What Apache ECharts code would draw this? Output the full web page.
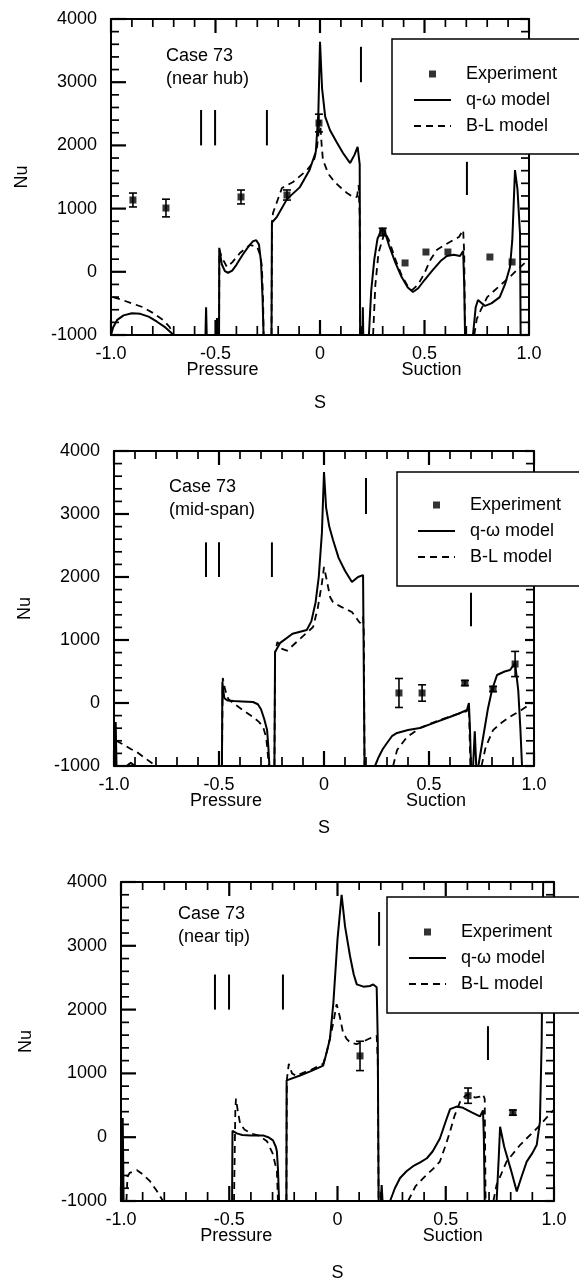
<!DOCTYPE html>
<html><head><meta charset="utf-8">
<script src="https://cdn.jsdelivr.net/npm/echarts@6/dist/echarts.min.js"></script>
<style>html,body{margin:0;padding:0;background:#fff}#c{width:579px;height:1283px}</style>
</head><body><div id="c"></div>
<script>
// ---------- tick labels / tick positions ----------
const xTickValues = [-1, -0.5, 0, 0.5, 1];
const xTickText = ['-1.0', '-0.5', '0', '0.5', '1.0'];
const xSideText = ['', 'Pressure', '', 'Suction', ''];
const xMinorValues = [-0.9,-0.8,-0.7,-0.6,-0.4,-0.3,-0.2,-0.1,0.1,0.2,0.3,0.4,0.6,0.7,0.8,0.9];
const yTickValues = [-1000, 0, 1000, 2000, 3000, 4000];
const yTickText = ['-1000', '0', '1000', '2000', '3000', '4000'];
const yMinorValues = [-800,-600,-400,-200,200,400,600,800,1200,1400,1600,1800,2200,2400,2600,2800,3200,3400,3600,3800];
const panelTitles = ['Case 73\n(near hub)', 'Case 73\n(mid-span)', 'Case 73\n(near tip)'];
const legendNames = ['Experiment', 'q-ω model', 'B-L model'];

// ---------- panel 1 : near hub ----------
const hubQw = [
  [[-1,-1000],[-0.99,-880],[-0.97,-760],[-0.94,-690],[-0.9,-655],[-0.86,-665],[-0.82,-710],[-0.78,-790],[-0.74,-880],[-0.7,-1000]],
  [[-0.548,-1000],[-0.545,-560],[-0.542,-1000]],
  [[-0.495,-1000],[-0.493,-730],[-0.49,-1000]],
  [[-0.483,-1000],[-0.482,380],[-0.47,120],[-0.455,10],[-0.44,-15],[-0.42,20],[-0.4,110],[-0.37,270],[-0.34,410],[-0.32,485],[-0.305,500],[-0.292,430],[-0.282,150],[-0.275,-400],[-0.27,-1000]],
  [[-0.232,-1000],[-0.23,780],[-0.206,870],[-0.158,1150],[-0.096,1340],[-0.05,1610],[-0.02,1900],[-0.008,2500],[0,3640],[0.01,2900],[0.025,2450],[0.048,2240],[0.08,2050],[0.11,1880],[0.144,1720],[0.165,1850],[0.18,1975],[0.19,1700],[0.192,-1000]],
  [[0.203,-1000],[0.205,-560],[0.207,-1000]],
  [[0.234,-1000],[0.245,-300],[0.26,200],[0.275,520],[0.297,690],[0.31,640],[0.33,420],[0.36,150],[0.39,-80],[0.42,-250],[0.445,-320],[0.47,-260],[0.5,-130],[0.54,30],[0.58,180],[0.607,250],[0.64,270],[0.67,250],[0.685,330],[0.69,-200],[0.694,-1000]],
  [[0.732,-1000],[0.745,-560],[0.756,-446],[0.775,-500],[0.79,-540],[0.82,-500],[0.86,-400],[0.885,-200],[0.909,76],[0.92,500],[0.933,1610],[0.945,1300],[0.957,600],[0.96,-1000]]
];
const hubBl = [
  [[-0.99,-400],[-0.95,-440],[-0.9,-500],[-0.85,-557],[-0.8,-650],[-0.75,-765],[-0.72,-870],[-0.7,-1000]],
  [[-0.483,-1000],[-0.481,344],[-0.47,230],[-0.445,76],[-0.42,150],[-0.383,297],[-0.335,424],[-0.3,392],[-0.285,250],[-0.278,76],[-0.272,-500],[-0.27,-1000]],
  [[-0.232,-1000],[-0.23,780],[-0.225,930],[-0.182,1326],[-0.129,1420],[-0.062,1610],[-0.03,1750],[-0.015,1950],[0,2400],[0.008,2000],[0.014,1770],[0.04,1550],[0.07,1420],[0.1,1330],[0.129,1247],[0.16,1180],[0.177,1184],[0.185,1373],[0.19,900],[0.192,-1000]],
  [[0.254,-1000],[0.265,-200],[0.28,300],[0.31,630],[0.33,500],[0.36,200],[0.39,-50],[0.42,-230],[0.44,-290],[0.47,-200],[0.5,-20],[0.53,200],[0.56,350],[0.6,430],[0.637,500],[0.665,550],[0.685,660],[0.69,300],[0.694,-1000]],
  [[0.738,-1000],[0.75,-750],[0.77,-600],[0.8,-400],[0.85,-250],[0.909,-80],[0.94,20],[0.97,110],[1.0,200]]
];
const hubExp = [[-0.895,1136,110],[-0.737,1009,140],[-0.378,1184,110],[-0.158,1215,80],[-0.005,2354,140],[0.30,630,60],[0.407,140,0],[0.507,313,0],[0.612,313,0],[0.813,234,0],[0.919,155,0]];
const hubMarks = [[-0.569,2000,2560],[-0.502,2000,2560],[-0.254,2000,2560],[0.196,3000,3560],[0.703,1215,1740]];

// ---------- panel 2 : mid-span ----------
const midQw = [
  [[-0.995,-1000],[-0.992,-300],[-0.988,-1000]],
  [[-0.94,-1000],[-0.92,-950],[-0.9,-1000]],
  [[-0.486,-1000],[-0.484,333],[-0.475,80],[-0.46,40],[-0.43,30],[-0.39,25],[-0.338,16],[-0.315,-20],[-0.3,-100],[-0.285,-250],[-0.271,-430],[-0.265,-700],[-0.26,-1000]],
  [[-0.236,-1000],[-0.233,810],[-0.21,950],[-0.15,1100],[-0.082,1160],[-0.06,1300],[-0.04,1600],[-0.025,2000],[-0.01,2700],[0,3667],[0.01,3100],[0.025,2800],[0.043,2587],[0.07,2300],[0.1,2100],[0.133,1920],[0.162,2000],[0.186,2030],[0.19,2000],[0.193,-1000]],
  [[0.243,-1000],[0.26,-860],[0.28,-730],[0.3,-635],[0.325,-520],[0.348,-476],[0.4,-430],[0.457,-397],[0.52,-320],[0.586,-238],[0.64,-170],[0.681,-111],[0.69,0],[0.695,-400],[0.7,-1000]],
  [[0.71,-1000],[0.718,-450],[0.725,-1000]],
  [[0.735,-1000],[0.76,-500],[0.78,-100],[0.8,206],[0.824,444],[0.86,500],[0.886,524],[0.91,635],[0.925,200],[0.935,-400],[0.943,-1000]]
];
const midBl = [
  [[-0.99,-600],[-0.96,-650],[-0.92,-730],[-0.89,-780],[-0.85,-880],[-0.8,-1000]],
  [[-0.486,-1000],[-0.482,397],[-0.47,200],[-0.455,60],[-0.433,0],[-0.4,-80],[-0.37,-150],[-0.338,-222],[-0.31,-300],[-0.29,-380],[-0.275,-550],[-0.265,-900],[-0.262,-1000]],
  [[-0.236,-1000],[-0.233,800],[-0.222,970],[-0.2,860],[-0.176,830],[-0.12,1000],[-0.052,1206],[-0.03,1500],[-0.01,1900],[0,2159],[0.01,2000],[0.029,1683],[0.043,1600],[0.08,1530],[0.133,1444],[0.171,1270],[0.186,1365],[0.19,1100],[0.193,-1000]],
  [[0.329,-1000],[0.348,-746],[0.395,-540],[0.457,-397],[0.52,-310],[0.586,-230],[0.64,-170],[0.68,-130],[0.69,-50],[0.697,-1000]],
  [[0.75,-1000],[0.77,-700],[0.805,-430],[0.85,-300],[0.9,-190],[0.94,-110],[0.971,-40],[0.99,0]]
];
const midExp = [[0.357,159,230],[0.467,159,130],[0.671,317,40],[0.805,222,40],[0.91,619,200]];
const midMarks = [[-0.562,2000,2550],[-0.5,2000,2550],[-0.248,2000,2550],[0.2,3000,3570],[0.7,1220,1750]];

// ---------- panel 3 : near tip ----------
const tipQw = [
  [[-0.995,-1000],[-0.992,300],[-0.988,-1000]],
  [[-0.487,-1000],[-0.485,100],[-0.48,106],[-0.465,60],[-0.44,35],[-0.4,28],[-0.344,28],[-0.32,0],[-0.298,-50],[-0.285,-150],[-0.28,-220],[-0.275,-500],[-0.27,-1000]],
  [[-0.236,-1000],[-0.235,890],[-0.173,967],[-0.12,1040],[-0.066,1123],[-0.05,1330],[-0.035,1540],[-0.019,2110],[0,3100],[0.019,3798],[0.035,3300],[0.058,2836],[0.075,2550],[0.089,2396],[0.12,2360],[0.15,2370],[0.165,2395],[0.181,2350],[0.186,1500],[0.19,-1000]],
  [[0.2,-1000],[0.204,-750],[0.208,-1000]],
  [[0.243,-1000],[0.265,-800],[0.289,-640],[0.32,-530],[0.349,-455],[0.38,-400],[0.413,-330],[0.44,-220],[0.473,-20],[0.5,250],[0.52,440],[0.55,480],[0.58,460],[0.62,390],[0.658,325],[0.672,420],[0.676,0],[0.68,-1000]],
  [[0.735,-1000],[0.745,-300],[0.751,163],[0.77,-150],[0.8,-500],[0.828,-850],[0.85,-620],[0.874,-382],[0.9,-250],[0.92,-123],[0.935,240],[0.943,1500],[0.95,4000]]
];
const tipBl = [
  [[-0.975,-1000],[-0.97,-620],[-0.96,-560],[-0.926,-517],[-0.9,-580],[-0.866,-690],[-0.835,-840],[-0.806,-1000]],
  [[-0.478,-1000],[-0.472,400],[-0.469,605],[-0.46,400],[-0.45,215],[-0.43,120],[-0.4,60],[-0.36,20],[-0.326,-62],[-0.3,-250],[-0.28,-530],[-0.275,-1000]],
  [[-0.236,-1000],[-0.234,900],[-0.225,1150],[-0.21,1000],[-0.19,960],[-0.173,990],[-0.12,1060],[-0.066,1150],[-0.05,1330],[-0.035,1550],[-0.019,1800],[-0.004,2084],[0.01,1900],[0.025,1650],[0.042,1540],[0.06,1480],[0.089,1460],[0.12,1500],[0.15,1550],[0.181,1590],[0.186,1200],[0.19,-1000]],
  [[0.326,-1000],[0.36,-770],[0.396,-642],[0.44,-500],[0.473,-382],[0.5,-120],[0.52,90],[0.54,330],[0.566,553],[0.59,650],[0.612,680],[0.635,620],[0.658,635],[0.672,670],[0.68,600],[0.684,-1000]],
  [[0.72,-1000],[0.735,-746],[0.781,-382],[0.843,-123],[0.9,70],[0.935,188],[0.982,370],[1.0,430]]
];
const tipExp = [[0.104,1274,230],[0.603,651,120],[0.81,386,40]];
const tipMarks = [[-0.566,2000,2550],[-0.501,2000,2550],[-0.252,2000,2550],[0.192,3000,3530],[0.695,1210,1740]];

// ---------- layout (pixels) ----------
const FONT = '"Liberation Sans", Arial, Helvetica, sans-serif';
const grids = [
  {left:111, top:19,  width:418, height:316},
  {left:114, top:451, width:420, height:315},
  {left:121, top:882, width:433, height:321}
];
const nuGap = [80, 80, 86];
const sGap = [59, 53, 63];
const titlePos = [{left:166, top:45}, {left:169, top:476}, {left:178, top:903}];
const legendPos = [
  {left:392, top:39, padding:[26,60,19,21]},
  {left:397, top:472, padding:[24,60,20,20]},
  {left:387, top:897, padding:[26,60,20,21]}
];
// tick lengths: [major, minor] for bottom, top, left, right
const tickLen = {bottom:[15,9], top:[14,8], left:[15,8], right:[9,8]};
const panels = [
  {qw:hubQw, bl:hubBl, exp:hubExp, marks:hubMarks},
  {qw:midQw, bl:midBl, exp:midExp, marks:midMarks},
  {qw:tipQw, bl:tipBl, exp:tipExp, marks:tipMarks}
];

const xAxes = [], yAxes = [], series = [], titles = [], legends = [];
const black = '#000';
const SQUARE = 'path://M0,0L10,0L10,10L0,10Z';

function labelFor(values, texts, v) {
  const i = values.findIndex(t => Math.abs(t - v) < 1e-9);
  return i < 0 ? '' : texts[i];
}

// tick list: [value, side(0 bottom,1 top,2 left,3 right), major(1/0)]
const tickItems = [];
xTickValues.forEach(v => { tickItems.push([v,0,1]); tickItems.push([v,1,1]); });
xMinorValues.forEach(v => { tickItems.push([v,0,0]); tickItems.push([v,1,0]); });
yTickValues.forEach(v => { tickItems.push([v,2,1]); tickItems.push([v,3,1]); });
yMinorValues.forEach(v => { tickItems.push([v,2,0]); tickItems.push([v,3,0]); });

panels.forEach((p, k) => {
  const baseAxis = {
    axisLine:{show:true, onZero:false, lineStyle:{color:black, width:2}},
    axisTick:{show:false}, minorTick:{show:false},
    splitLine:{show:false}, minorSplitLine:{show:false}
  };
  xAxes.push(Object.assign({
    type:'value', gridIndex:k, position:'bottom', min:-1, max:1, interval:0.5,
    name:'S', nameLocation:'middle', nameGap:sGap[k],
    nameTextStyle:{fontSize:18, fontFamily:FONT, color:black},
    axisLabel:{
      show:true, margin:11, color:black, fontFamily:FONT,
      formatter: v => {
        const t = labelFor(xTickValues, xTickText, v);
        const s = labelFor(xTickValues, xSideText, v);
        return s ? '{t|' + t + '}\n{s|' + s + '}' : '{t|' + t + '}';
      },
      rich:{
        t:{fontSize:18, lineHeight:16, fontFamily:FONT, color:black},
        s:{fontSize:18, lineHeight:16, fontFamily:FONT, color:black, padding:[0,0,0,14]}
      }
    }
  }, baseAxis));
  xAxes.push(Object.assign({
    type:'value', gridIndex:k, position:'top', min:-1, max:1, interval:0.5, axisLabel:{show:false}
  }, baseAxis));
  yAxes.push(Object.assign({
    type:'value', gridIndex:k, position:'left', min:-1000, max:4000, interval:1000,
    name:'Nu', nameLocation:'middle', nameGap:nuGap[k],
    nameTextStyle:{fontSize:18, fontFamily:FONT, color:black},
    axisLabel:{show:true, margin:14, fontSize:18, fontFamily:FONT, color:black,
      formatter: v => labelFor(yTickValues, yTickText, v)}
  }, baseAxis));
  yAxes.push(Object.assign({
    type:'value', gridIndex:k, position:'right', min:-1000, max:4000, interval:1000, axisLabel:{show:false}
  }, baseAxis));

  const xi = 2*k, yi = 2*k;
  // inside ticks drawn through the axis scales
  series.push({
    type:'custom', xAxisIndex:xi, yAxisIndex:yi, data:tickItems, silent:true, z:2, clip:false,
    renderItem:(params, api) => {
      const v = api.value(0), side = api.value(1), major = api.value(2);
      let a, dx = 0, dy = 0, len;
      if (side === 0) { a = api.coord([v, -1000]); len = tickLen.bottom[major ? 0 : 1]; dy = -len; }
      else if (side === 1) { a = api.coord([v, 4000]); len = tickLen.top[major ? 0 : 1]; dy = len; }
      else if (side === 2) { a = api.coord([-1, v]); len = tickLen.left[major ? 0 : 1]; dx = len; }
      else { a = api.coord([1, v]); len = tickLen.right[major ? 0 : 1]; dx = -len; }
      return {type:'line', shape:{x1:a[0], y1:a[1], x2:a[0]+dx, y2:a[1]+dy},
        style:{stroke:black, lineWidth: major ? 2.2 : 1.7}};
    }
  });
  p.qw.forEach(seg => series.push({
    type:'line', name:legendNames[1], xAxisIndex:xi, yAxisIndex:yi, data:seg,
    symbol:'none', lineStyle:{color:black, width:2, type:'solid'}, itemStyle:{color:black},
    silent:true, z:3
  }));
  p.bl.forEach(seg => series.push({
    type:'line', name:legendNames[2], xAxisIndex:xi, yAxisIndex:yi, data:seg,
    symbol:'none', lineStyle:{color:black, width:1.8, type:[7,5]}, itemStyle:{color:black},
    silent:true, z:3
  }));
  series.push({
    type:'scatter', name:legendNames[0], xAxisIndex:xi, yAxisIndex:yi,
    data:p.exp.map(d => [d[0], d[1]]),
    symbol:'rect', symbolSize:7, itemStyle:{color:black}, silent:true, z:4
  });
  series.push({
    type:'custom', xAxisIndex:xi, yAxisIndex:yi, data:p.exp.filter(d => d[2] > 0), silent:true, z:4,
    renderItem:(params, api) => {
      const x = api.value(0), y = api.value(1), e = api.value(2);
      const a = api.coord([x, y + e]), b = api.coord([x, y - e]);
      const w = 4, st = {stroke:black, lineWidth:1.6};
      return {type:'group', children:[
        {type:'line', shape:{x1:a[0], y1:a[1], x2:b[0], y2:b[1]}, style:st},
        {type:'line', shape:{x1:a[0]-w, y1:a[1], x2:a[0]+w, y2:a[1]}, style:st},
        {type:'line', shape:{x1:b[0]-w, y1:b[1], x2:b[0]+w, y2:b[1]}, style:st}
      ]};
    }
  });
  series.push({
    type:'custom', xAxisIndex:xi, yAxisIndex:yi, data:p.marks, silent:true, z:3,
    renderItem:(params, api) => {
      const a = api.coord([api.value(0), api.value(1)]), b = api.coord([api.value(0), api.value(2)]);
      return {type:'line', shape:{x1:a[0], y1:a[1], x2:b[0], y2:b[1]}, style:{stroke:black, lineWidth:2}};
    }
  });

  titles.push({
    text:panelTitles[k], left:titlePos[k].left, top:titlePos[k].top, padding:0,
    textStyle:{fontSize:18, fontWeight:'normal', fontFamily:FONT, color:black, lineHeight:23}
  });
  legends.push({
    data:[
      {name:legendNames[0], icon:SQUARE},
      {name:legendNames[1], itemStyle:{opacity:0}},
      {name:legendNames[2], itemStyle:{opacity:0}}
    ],
    orient:'vertical', left:legendPos[k].left, top:legendPos[k].top, padding:legendPos[k].padding,
    itemWidth:37, itemHeight:7, itemGap:8, selectedMode:false, symbolKeepAspect:true,
    backgroundColor:'#fff', borderColor:black, borderWidth:1.5, z:10,
    textStyle:{fontSize:18, fontFamily:FONT, color:black, padding:[0,0,0,10]}
  });
});

const chart = echarts.init(document.getElementById('c'), null, {renderer:'canvas'});
chart.setOption({
  animation:false, backgroundColor:'#fff',
  title:titles, legend:legends, grid:grids.map(g => Object.assign({containLabel:false}, g)),
  xAxis:xAxes, yAxis:yAxes, series:series
});
</script></body></html>
